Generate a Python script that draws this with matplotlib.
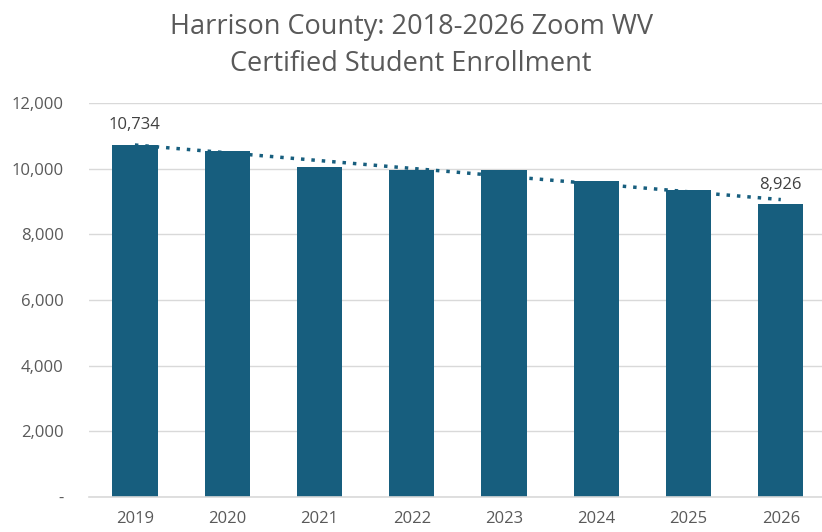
import numpy as np
import matplotlib
matplotlib.use("Agg")
import matplotlib.pyplot as plt
from matplotlib.ticker import FuncFormatter

# --- data ---
years = ["2019", "2020", "2021", "2022", "2023", "2024", "2025", "2026"]
enrollment = [10734, 10550, 10060, 9960, 9950, 9625, 9350, 8926]
labelled = [0, 7]  # only first and last bars carry a value label

bar_color = "#175E7E"
text_color = "#595959"

plt.rcParams["font.family"] = ["Open Sans", "DejaVu Sans"]

fig = plt.figure(figsize=(8.22, 5.32), dpi=100)
ax = fig.add_axes([0.108, 0.066, 0.898, 0.74])

x = np.arange(len(years))
ax.bar(x, enrollment, width=0.49, color=bar_color, zorder=2)

# linear trendline, dotted
coef = np.polyfit(x, enrollment, 1)
ax.plot(x, np.polyval(coef, x), linestyle=(0, (1, 2.0)), linewidth=2.5,
        color=bar_color, zorder=3)

for i in labelled:
    ax.text(x[i], enrollment[i] + 350, f"{enrollment[i]:,}", ha="center",
            va="bottom", fontsize=12, color="#404040")

ax.set_xlim(-0.5, len(years) - 0.5)
ax.set_ylim(0, 12000)
ax.set_yticks(range(0, 12001, 2000))
ax.yaxis.set_major_formatter(FuncFormatter(lambda v, p: "-" if v == 0 else f"{int(v):,}"))
ax.set_xticks(x)
ax.set_xticklabels(years)

ax.grid(axis="y", color="#D9D9D9", linewidth=1, zorder=0)
for s in ["top", "right", "left"]:
    ax.spines[s].set_visible(False)
ax.spines["bottom"].set_color("#D9D9D9")
ax.spines["bottom"].set_linewidth(1.2)
ax.tick_params(axis="both", length=0, labelsize=12, colors=text_color)
ax.tick_params(axis="y", pad=18)
ax.tick_params(axis="x", pad=10)

fig.suptitle("Harrison County: 2018-2026 Zoom WV\nCertified Student Enrollment",
             fontsize=19.5, color=text_color, y=0.975, linespacing=1.4)

fig.savefig("out.png", dpi=100)
